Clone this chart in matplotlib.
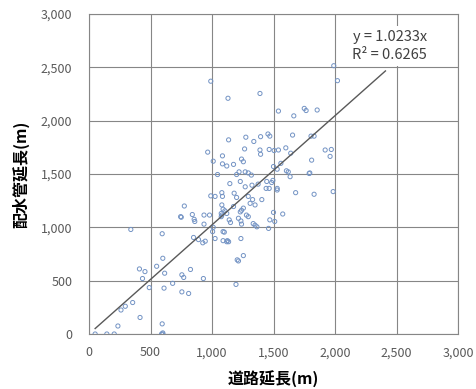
"""Road length vs. water pipe length scatter with linear trend through origin."""
import matplotlib
matplotlib.use("Agg")
import matplotlib.pyplot as plt
from matplotlib.ticker import FuncFormatter

plt.rcParams["font.family"] = ["Noto Sans CJK JP", "DejaVu Sans"]

# (road length, pipe length) in metres
road_len = [
    50, 145, 205, 590, 600, 600,
    235, 415, 595, 260, 295, 355,
    490, 435, 410, 455, 550, 610, 615, 600, 595, 340,
    680, 755, 810, 755, 770, 825, 930,
    775, 745, 750, 840, 855, 860, 935, 980, 935, 850, 890, 925, 945,
    990, 1025, 1080, 1085, 1080, 1090, 1010, 1025, 1100, 1120, 1135, 1080,
    1195, 1205, 1215, 1255,
    1045, 1200, 1220, 1270, 1295, 1320, 1635, 1790, 1795,
    1145, 1230, 1270, 1325, 1375, 1445, 1485, 1495, 1530, 1530, 1680, 1830, 1985,
    1180, 1200, 1295, 1330, 1405, 1440, 1465,
    1105, 1120, 1075, 1075, 1175, 1230, 1240, 1255, 1310, 1350, 1280, 1295,
    1335, 1350, 1215, 1235, 1140, 1150, 1240,
    1005, 1090, 1090, 1125, 1235,
    1470, 1510, 1460, 1500, 1575, 1365,
    1990, 2020, 990, 1130, 1390, 1540, 1665, 1750, 1765, 1855,
    1135, 1275, 1340, 1395, 1455, 1470, 1655, 1805, 1830,
    965, 1010, 1085, 1085, 1120, 1175, 1240, 1255, 1265, 1390, 1395, 1465,
    1505, 1540, 1600, 1640, 1920, 1970, 1960, 1810,
    1500, 1530, 1560, 1605, 1620,
]
pipe_len = [
    0, 0, 0, 0, 0, 10,
    75, 155, 95, 225, 260, 295,
    435, 520, 610, 585, 635, 430, 570, 710, 940, 980,
    475, 395, 380, 555, 530, 605, 520,
    1200, 1100, 1095, 1120, 1075, 1055, 1115, 1115, 1030, 905, 885, 855, 870,
    1295, 1290, 1325, 1290, 1210, 1170, 1000, 895, 955, 865, 865, 1115,
    465, 695, 685, 735,
    1495, 1495, 1520, 1520, 1510, 1490, 1475, 1505, 1510,
    1410, 1430, 1380, 1395, 1405, 1430, 1420, 1440, 1350, 1365, 1325, 1310, 1335,
    1320, 1280, 1290, 1260, 1260, 1365, 1365,
    1155, 1130, 1130, 1100, 1195, 1145, 1160, 1180, 1225, 1210, 1115, 1100,
    1035, 1020, 1085, 1060, 1070, 1045, 1030,
    960, 960, 875, 875, 895,
    1070, 1055, 990, 1140, 1125, 1005,
    2515, 2375, 2370, 2210, 2255, 2090, 2045, 2115, 2095, 2100,
    1820, 1845, 1805, 1850, 1875, 1855, 1865, 1855, 1855,
    1705, 1620, 1670, 1595, 1575, 1590, 1640, 1615, 1735, 1725, 1685, 1730,
    1720, 1725, 1745, 1695, 1725, 1730, 1665, 1630,
    1570, 1545, 1600, 1530, 1520,
]

slope = 1.0233
r_squared = 0.6265
trend_x = [50, 2410]
ticks = [0, 500, 1000, 1500, 2000, 2500, 3000]

GRID = "#868686"
TICK_TXT = "#595959"


def main() -> None:
    fig = plt.figure(figsize=(4.76, 3.89), dpi=100)
    ax = fig.add_axes([89 / 476, 1 - 334 / 389, (458 - 89) / 476, (334 - 14) / 389])

    ax.scatter(road_len, pipe_len, s=9, facecolors="none",
               edgecolors="#7393c4", linewidths=0.7, zorder=3)
    ax.plot(trend_x, [slope * v for v in trend_x], color="#595959", lw=1.0, zorder=4)

    ax.set_xlim(0, 3000)
    ax.set_ylim(0, 3000)
    ax.set_xticks(ticks)
    ax.set_yticks(ticks)
    fmt = FuncFormatter(lambda v, _: f"{int(v):,}")
    ax.xaxis.set_major_formatter(fmt)
    ax.yaxis.set_major_formatter(fmt)
    ax.tick_params(length=0, labelsize=9, colors=TICK_TXT)
    ax.tick_params(axis="y", pad=12)
    ax.tick_params(axis="x", pad=9)
    ax.grid(True, color=GRID, lw=0.8)
    ax.set_axisbelow(True)
    for sp in ax.spines.values():
        sp.set_color(GRID)
        sp.set_linewidth(0.8)

    ax.set_xlabel("道路延長(m)", fontsize=11.5, fontweight="bold", labelpad=8)
    ax.set_ylabel("配水管延長(m)", fontsize=11.5, fontweight="bold", labelpad=8)

    ax.text(2445, 2700, f"y = {slope:.4f}x\nR² = {r_squared:.4f}",
            ha="center", va="center", fontsize=10.5, color="#404040",
            linespacing=1.4, zorder=5,
            bbox=dict(facecolor="white", edgecolor="none", pad=3))

    fig.savefig("out.png", dpi=100)
    plt.close(fig)


if __name__ == "__main__":
    main()
